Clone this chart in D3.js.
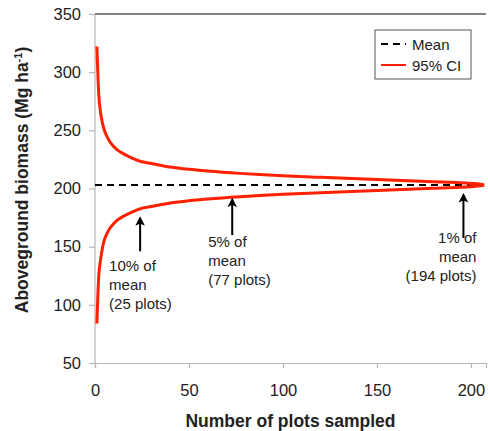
<!DOCTYPE html>
<html>
<head>
<meta charset="utf-8">
<script src="https://cdn.jsdelivr.net/npm/d3@7"></script>
<style>
body { margin: 0; background: #fff; }
text { font-family: "Liberation Sans", Arial, sans-serif; fill: #222; }
</style>
</head>
<body>
<div id="chart"></div>
<script>
// plots sampled vs 95% CI of biomass
var plots =  [1,   2,   3,   4,   5,   6,   8,   10,  12,  15,  20,  25,  30,    40,    50,    60,  77,  90,    100, 120,   140,   160, 180,   194, 200,   205,   207];
var upper =  [322, 281, 265, 256, 250, 246, 240, 236, 233, 230, 226, 223, 221.5, 218.5, 216.5, 215, 213, 211.8, 211, 209.6, 208.3, 207, 205.8, 205, 204.4, 203.7, 203];
var lower =  [84,  125, 139, 149, 156, 160, 166, 170, 173, 176, 180, 183, 184.5, 187.5, 189.5, 191, 193, 194.2, 195, 196.4, 197.7, 199, 200.2, 201, 201.6, 202.3, 203];
var MEAN = 203;

var X_TICKS = [0, 50, 100, 150, 200];
var Y_TICKS = [50, 100, 150, 200, 250, 300, 350];

// annotations: arrow x, arrow tip/tail in biomass units, label lines
var notes = [
    {n: 24,  tip: 174.5, tail: 146,   lines: ['10% of', 'mean', '(25 plots)'],  anchor: 'start', dx: -31, dy: 20},
    {n: 73,  tip: 190.5, tail: 160,   lines: ['5% of', 'mean', '(77 plots)'],   anchor: 'start', dx: -24, dy: 12},
    {n: 196, tip: 194.5, tail: 157.5, lines: ['1% of', 'mean', '(194 plots)'], anchor: 'end',   dx: 13,  dy: 5}
];

var WIDTH = 488, HEIGHT = 431;
var margin = {top: 14, left: 95, bottom: 68, right: 2};
var W = WIDTH - margin.left - margin.right;
var H = HEIGHT - margin.top - margin.bottom;

var sx = d3.scaleLinear().domain([0, 208]).range([0, W]);
var sy = d3.scaleLinear().domain([50, 350]).range([H, 0]);

var svg = d3.select('#chart').append('svg')
    .attr('width', WIDTH)
    .attr('height', HEIGHT);

// arrow head
svg.append('defs').append('marker')
    .attr('id', 'head')
    .attr('viewBox', '0 0 10 10')
    .attr('refX', 8).attr('refY', 5)
    .attr('markerWidth', 4.8).attr('markerHeight', 4.8)
    .attr('markerUnits', 'strokeWidth')
    .attr('orient', 'auto')
  .append('path')
    .attr('d', 'M0,0 L10,5 L0,10 L2.5,5 Z')
    .attr('fill', '#000');

var g = svg.append('g')
    .attr('transform', 'translate(' + margin.left + ', ' + margin.top + ')');

var ax = d3.axisBottom(sx).tickValues(X_TICKS).tickSize(5).tickPadding(16);
var ay = d3.axisLeft(sy).tickValues(Y_TICKS).tickSize(6).tickPadding(8);

var gx = g.append('g')
    .attr('transform', 'translate(0, ' + H + ')')
    .call(ax);
var gy = g.append('g').call(ay);

[gx, gy].forEach(function(a) {
    a.select('.domain').attr('stroke', '#b5b5b5').attr('stroke-width', 1.2);
    a.selectAll('.tick line').attr('stroke', '#b5b5b5').attr('stroke-width', 1.2);
    a.selectAll('.tick text')
        .attr('font-size', 16.5)
        .attr('font-family', '"Liberation Sans", Arial, sans-serif')
        .attr('fill', '#222');
});
gy.select('.domain').attr('d', 'M0,' + H + 'V0');

// top frame line
g.append('line')
    .attr('x1', 0).attr('x2', W)
    .attr('y1', 0).attr('y2', 0)
    .attr('stroke', '#808080')
    .attr('stroke-width', 2);

// mean
g.append('line')
    .attr('x1', sx(0)).attr('x2', sx(207))
    .attr('y1', sy(MEAN)).attr('y2', sy(MEAN))
    .attr('stroke', '#000')
    .attr('stroke-width', 2)
    .attr('stroke-dasharray', '7,5');

// CI curves
var line = d3.line()
    .x(function(d) { return sx(d[0]); })
    .y(function(d) { return sy(d[1]); })
    .curve(d3.curveMonotoneX);

[upper, lower].forEach(function(vals) {
    g.append('path')
        .datum(plots.map(function(p, i) { return [p, vals[i]]; }))
        .attr('d', line)
        .attr('fill', 'none')
        .attr('stroke', '#ff2000')
        .attr('stroke-width', 3);
});

// annotations
notes.forEach(function(a) {
    var x = sx(a.n);
    g.append('line')
        .attr('x1', x).attr('x2', x)
        .attr('y1', sy(a.tail)).attr('y2', sy(a.tip))
        .attr('stroke', '#000')
        .attr('stroke-width', 2)
        .attr('marker-end', 'url(#head)');
    var t = g.append('text')
        .attr('x', x + a.dx)
        .attr('y', sy(a.tail) + a.dy)
        .attr('text-anchor', a.anchor)
        .attr('font-size', 15);
    a.lines.forEach(function(s, i) {
        t.append('tspan')
            .attr('x', x + a.dx)
            .attr('dy', i == 0 ? 0 : 19)
            .text(s);
    });
});

// legend
var lg = g.append('g').attr('transform', 'translate(' + (W - 111) + ', 16)');
lg.append('rect')
    .attr('width', 96).attr('height', 49)
    .attr('fill', '#fff')
    .attr('stroke', '#555')
    .attr('stroke-width', 1);
lg.append('line')
    .attr('x1', 6).attr('x2', 31).attr('y1', 14).attr('y2', 14)
    .attr('stroke', '#000').attr('stroke-width', 2).attr('stroke-dasharray', '7,5');
lg.append('line')
    .attr('x1', 6).attr('x2', 31).attr('y1', 35).attr('y2', 35)
    .attr('stroke', '#ff2000').attr('stroke-width', 2);
lg.append('text').attr('x', 37).attr('y', 19.5).attr('font-size', 15).text('Mean');
lg.append('text').attr('x', 37).attr('y', 40.5).attr('font-size', 15).text('95% CI');

// axis titles
svg.append('text')
    .attr('x', margin.left + sx(104))
    .attr('y', 427)
    .attr('text-anchor', 'middle')
    .attr('font-size', 17.5)
    .attr('font-weight', 'bold')
    .text('Number of plots sampled');

var yt = svg.append('text')
    .attr('transform', 'translate(28, 180) rotate(-90)')
    .attr('text-anchor', 'middle')
    .attr('font-size', 17.5)
    .attr('font-weight', 'bold');
yt.append('tspan').text('Aboveground biomass (Mg ha');
yt.append('tspan').attr('font-size', 11).attr('dy', -6).text('-1');
yt.append('tspan').attr('dy', 6).text(')');
</script>
</body>
</html>
